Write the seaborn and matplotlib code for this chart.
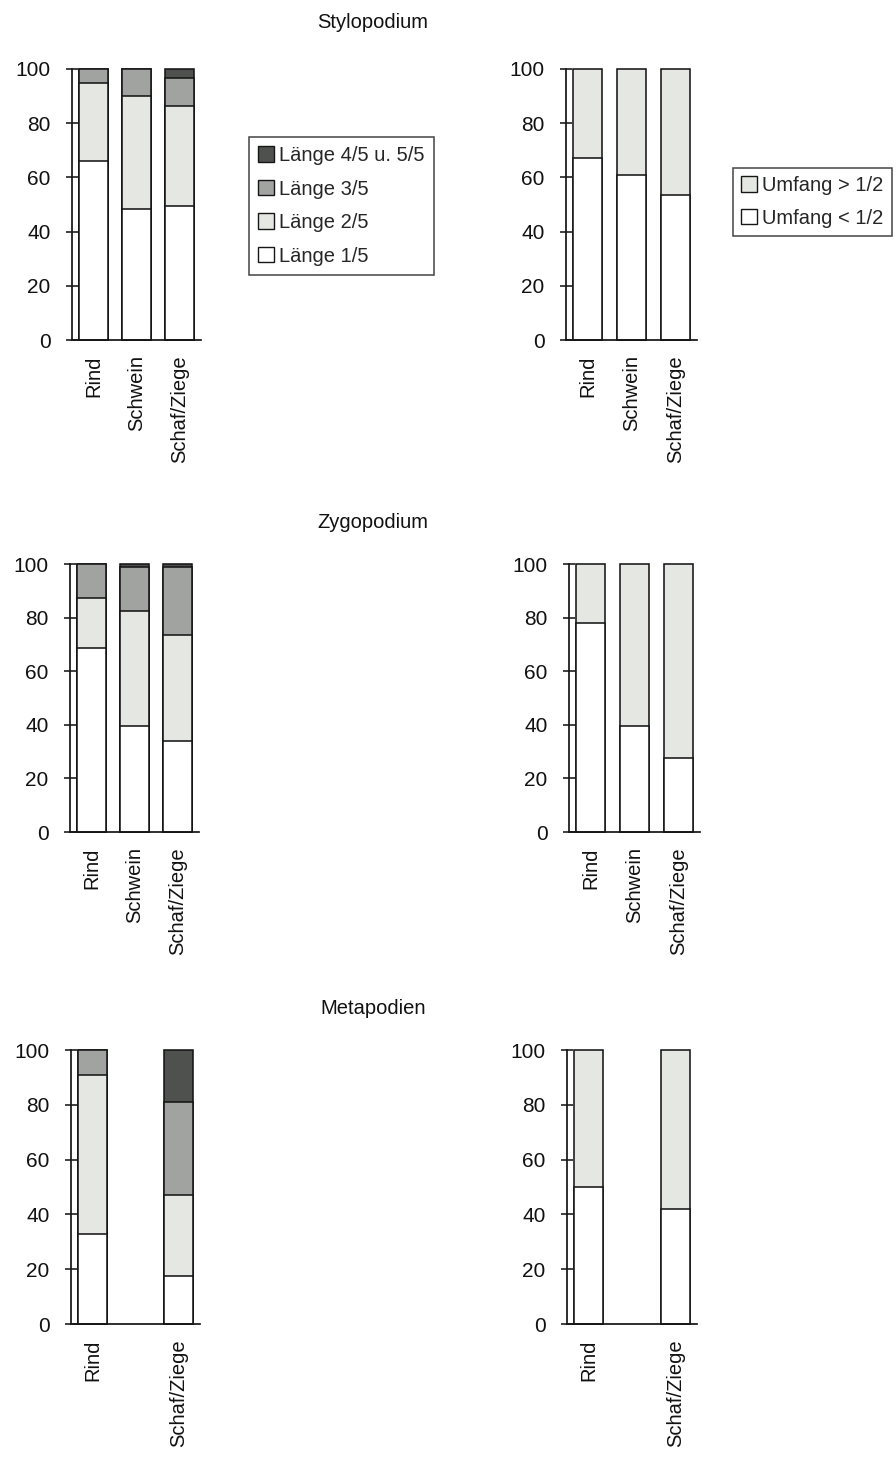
import numpy as np
import pandas as pd
import seaborn as sns
import matplotlib.pyplot as plt
from matplotlib.patches import Patch

# Tierarten
cats = ["Rind", "Schwein", "Schaf/Ziege"]
meta_cats = ["Rind", "Schaf/Ziege"]

# Stylopodium - Länge (Anteile in %)
stylo_l1 = [66, 48.5, 49.5]
stylo_l2 = [29, 41.5, 37]
stylo_l3 = [5, 10, 10]
stylo_l4 = [0, 0, 3.5]
# Stylopodium - Umfang
stylo_u_lt = [67, 61, 53.5]
stylo_u_gt = [33, 39, 46.5]

# Zygopodium
zygo_l1 = [68.5, 39.5, 34]
zygo_l2 = [19, 43, 39.5]
zygo_l3 = [12.5, 16.3, 25.3]
zygo_l4 = [0, 1.2, 1.2]
zygo_u_lt = [78, 39.5, 27.5]
zygo_u_gt = [22, 60.5, 72.5]

# Metapodien (kein Schwein)
meta_l1 = [33, 17.5]
meta_l2 = [58, 29.5]
meta_l3 = [9, 34]
meta_l4 = [0, 19]
meta_u_lt = [50, 42]
meta_u_gt = [50, 58]

laenge_labels = ["Länge 1/5", "Länge 2/5", "Länge 3/5", "Länge 4/5 u. 5/5"]
umfang_labels = ["Umfang < 1/2", "Umfang > 1/2"]

c_white = "#ffffff"
c_light = "#e5e7e3"
c_mid = "#a0a3a0"
c_dark = "#4e514e"
laenge_colors = [c_white, c_light, c_mid, c_dark]
umfang_colors = [c_white, c_light]

sns.set_theme(style="white")
plt.rcParams['font.family'] = ['Liberation Sans', 'DejaVu Sans']

fig = plt.figure(figsize=(8.96, 14.66), dpi=100)
W, H = 896, 1466


def box(x0, x1, top, bottom):
    return [x0 / W, 1 - bottom / H, (x1 - x0) / W, (bottom - top) / H]


def stacked(ax, names, layers, colors, order):
    # gestapelt zeichnen: kumulierte Summen von oben nach unten uebereinander
    cum = np.cumsum(np.array(layers, dtype=float), axis=0)
    for k in range(len(layers) - 1, -1, -1):
        df = pd.DataFrame({"cat": names, "val": cum[k]})
        sns.barplot(data=df, x="cat", y="val", order=order, color=colors[k],
                    saturation=1, width=0.67, edgecolor="#161616",
                    linewidth=1.15, errorbar=None, ax=ax)
    for p in ax.patches:
        p.set_clip_on(False)
    ax.set_xlim(-0.5, 2.5)
    ax.set_ylim(0, 100)
    ax.set_yticks(range(0, 101, 20))
    ax.set_xlabel("")
    ax.set_ylabel("")
    sns.despine(ax=ax)
    for s in ["left", "bottom"]:
        ax.spines[s].set_color("#161616")
        ax.spines[s].set_linewidth(1.25)
    ax.tick_params(axis="y", direction="inout", length=8, width=1.15,
                   color="#161616", pad=11.5, labelsize=15, left=True,
                   labelcolor="#111111")
    ax.tick_params(axis="x", length=0, pad=11, labelsize=14.5, rotation=90,
                   labelcolor="#111111")


rows = [(69, 340), (564, 832), (1050, 1324)]

# Stylopodium
ax = fig.add_axes(box(72, 201, *rows[0]))
stacked(ax, cats, [stylo_l1, stylo_l2, stylo_l3, stylo_l4], laenge_colors, cats)
ax = fig.add_axes(box(566, 697, *rows[0]))
stacked(ax, cats, [stylo_u_lt, stylo_u_gt], umfang_colors, cats)

# Zygopodium
ax = fig.add_axes(box(70, 199, *rows[1]))
stacked(ax, cats, [zygo_l1, zygo_l2, zygo_l3, zygo_l4], laenge_colors, cats)
ax = fig.add_axes(box(569, 700, *rows[1]))
stacked(ax, cats, [zygo_u_lt, zygo_u_gt], umfang_colors, cats)

# Metapodien
ax = fig.add_axes(box(71, 200, *rows[2]))
stacked(ax, meta_cats, [meta_l1, meta_l2, meta_l3, meta_l4], laenge_colors, cats)
ax.set_xticks([0, 2], meta_cats)
ax.tick_params(axis="x", rotation=90)
ax = fig.add_axes(box(567, 697, *rows[2]))
stacked(ax, meta_cats, [meta_u_lt, meta_u_gt], umfang_colors, cats)
ax.set_xticks([0, 2], meta_cats)
ax.tick_params(axis="x", rotation=90)

# Titel
for txt, y in [("Stylopodium", 23), ("Zygopodium", 523), ("Metapodien", 1009)]:
    fig.text(373 / W, 1 - y / H, txt, ha="center", va="center", fontsize=14.5,
             color="#111111")

# Legenden
h1 = [Patch(facecolor=laenge_colors[i], edgecolor="#161616", linewidth=1, label=laenge_labels[i])
      for i in [3, 2, 1, 0]]
leg = fig.legend(handles=h1, loc="upper left", bbox_to_anchor=(249 / W, 1 - 137 / H),
                 fontsize=14.5, frameon=True, fancybox=False, edgecolor="#161616",
                 handlelength=0.8, handleheight=0.8, handletextpad=0.25,
                 labelspacing=0.72, borderpad=0.45, borderaxespad=0)
leg.get_frame().set_linewidth(1.1)

h2 = [Patch(facecolor=umfang_colors[i], edgecolor="#161616", linewidth=1, label=umfang_labels[i])
      for i in [1, 0]]
leg2 = fig.legend(handles=h2, loc="upper left", bbox_to_anchor=(733 / W, 1 - 168 / H),
                  fontsize=14.5, frameon=True, fancybox=False, edgecolor="#161616",
                  handlelength=0.8, handleheight=0.8, handletextpad=0.25,
                  labelspacing=0.68, borderpad=0.4, borderaxespad=0)
leg2.get_frame().set_linewidth(1.1)

fig.savefig("out.png", dpi=100, facecolor="white")
